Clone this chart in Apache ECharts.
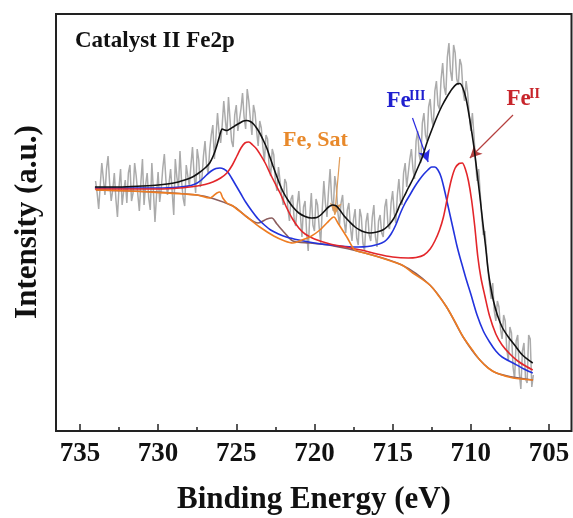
<!DOCTYPE html>
<html>
<head>
<meta charset="utf-8">
<script src="https://cdn.jsdelivr.net/npm/echarts@6/dist/echarts.min.js"></script>
<style>
html,body{margin:0;padding:0;background:#fff;}
#chart{width:573px;height:518px;}
</style>
</head>
<body>
<div id="chart"></div>
<script>
// ---- Data (binding energy in eV, intensity in arbitrary units) ----
const tickLabels = [735, 730, 725, 720, 715, 710, 705];
const minorTicks = [732.5, 727.5, 722.5, 717.5, 712.5, 707.5];

const rawEnergy = [
734.0,733.9,733.8,733.7,733.6,733.5,733.4,733.3,733.2,733.1,733.0,732.9,732.8,732.7,732.6,732.5,732.4,732.3,732.2,732.1,
732.0,731.9,731.8,731.7,731.6,731.5,731.4,731.3,731.2,731.1,731.0,730.9,730.8,730.7,730.6,730.5,730.4,730.3,730.2,730.1,
730.0,729.9,729.8,729.7,729.6,729.5,729.4,729.3,729.2,729.1,729.0,728.9,728.8,728.7,728.6,728.5,728.4,728.3,728.2,728.1,
728.0,727.9,727.8,727.7,727.6,727.5,727.4,727.3,727.2,727.1,727.0,726.9,726.8,726.7,726.6,726.5,726.4,726.3,726.2,726.1,
726.0,725.9,725.8,725.7,725.6,725.5,725.4,725.3,725.2,725.1,725.0,724.9,724.8,724.7,724.6,724.5,724.4,724.3,724.2,724.1,
724.0,723.9,723.8,723.7,723.6,723.5,723.4,723.3,723.2,723.1,723.0,722.9,722.8,722.7,722.6,722.5,722.4,722.3,722.2,722.1,
722.0,721.9,721.8,721.7,721.6,721.5,721.4,721.3,721.2,721.1,721.0,720.9,720.8,720.7,720.6,720.5,720.4,720.3,720.2,720.1,
720.0,719.9,719.8,719.7,719.6,719.5,719.4,719.3,719.2,719.1,719.0,718.9,718.8,718.7,718.6,718.5,718.4,718.3,718.2,718.1,
718.0,717.9,717.8,717.7,717.6,717.5,717.4,717.3,717.2,717.1,717.0,716.9,716.8,716.7,716.6,716.5,716.4,716.3,716.2,716.1,
716.0,715.9,715.8,715.7,715.6,715.5,715.4,715.3,715.2,715.1,715.0,714.9,714.8,714.7,714.6,714.5,714.4,714.3,714.2,714.1,
714.0,713.9,713.8,713.7,713.6,713.5,713.4,713.3,713.2,713.1,713.0,712.9,712.8,712.7,712.6,712.5,712.4,712.3,712.2,712.1,
712.0,711.9,711.8,711.7,711.6,711.5,711.4,711.3,711.2,711.1,711.0,710.9,710.8,710.7,710.6,710.5,710.4,710.3,710.2,710.1,
710.0,709.9,709.8,709.7,709.6,709.5,709.4,709.3,709.2,709.1,709.0,708.9,708.8,708.7,708.6,708.5,708.4,708.3,708.2,708.1,
708.0,707.9,707.8,707.7,707.6,707.5,707.4,707.3,707.2,707.1,707.0,706.9,706.8,706.7,706.6,706.5,706.4,706.3,706.2,706.1,
706.0];
const rawIntensity = [
250,238,222,246,268,252,236,262,275,248,230,241,258,232,214,244,262,226,240,251,
228,258,266,230,238,268,255,237,220,249,272,226,246,258,233,221,268,240,209,236,
259,229,242,263,277,251,236,248,262,239,216,272,254,243,280,250,233,225,266,255,
245,266,284,257,238,282,271,244,252,275,290,266,258,281,296,306,272,294,318,298,
288,306,330,311,296,334,312,290,284,316,326,300,298,322,338,314,302,342,330,312,
296,326,318,300,285,310,303,284,270,296,292,264,255,282,276,250,240,264,262,236,
226,252,248,222,210,232,236,212,205,226,240,216,194,224,230,198,180,215,238,206,
200,232,226,204,188,222,250,228,214,240,262,232,220,255,244,218,206,228,236,210,
198,221,228,204,190,212,222,193,186,222,214,188,180,209,218,196,190,214,226,194,
184,210,216,198,194,224,232,206,202,228,240,218,208,236,252,230,226,258,268,244,
244,272,282,262,252,290,300,276,268,308,318,296,290,324,332,312,304,340,350,326,
322,352,368,344,336,374,388,360,350,386,378,352,346,372,366,340,330,350,338,316,
300,318,296,270,250,262,238,214,196,200,180,160,146,132,148,120,110,130,124,102,
92,116,110,82,70,104,98,64,52,90,96,58,42,80,88,52,48,96,92,44,
56];

const envelopeFit = [
[734.04,244],[732.5,244],[731.0,245],[730.0,246],[729.0,248],[728.3,251],[727.8,254],[727.4,258],
[727.0,263],[726.7,268],[726.45,276],[726.25,285],[726.05,296],[725.9,302],[725.75,301],[725.6,300.5],
[725.4,302],[725.2,304],[725.0,306],[724.77,308],[724.55,310],[724.34,310.5],[724.1,309.5],[723.9,307],
[723.7,303],[723.5,298],[723.28,291],[723.05,283],[722.85,274],[722.65,265],[722.42,255],[722.2,246],
[722.0,239],[721.7,231],[721.38,224],[721.0,218],[720.6,214.5],[720.2,213],[719.85,213.5],[719.6,216],
[719.35,220],[719.1,224],[718.85,226],[718.6,225],[718.38,221],[718.1,215],[717.74,209],[717.4,204],
[717.1,201],[716.8,199],[716.46,198],[716.0,199],[715.63,201],[715.3,205],[714.99,211],[714.75,218],
[714.54,226],[714.25,235],[714.0,243],[713.7,252],[713.45,261],[713.1,274],[712.81,288],[712.5,301],
[712.17,314],[711.85,325],[711.53,334],[711.2,342],[710.9,347],[710.7,347.5],[710.51,343],[710.3,332],
[710.06,311],[709.8,284],[709.62,261],[709.4,232],[709.23,208],[709.05,184],[708.9,162],[708.75,146],
[708.55,130],[708.3,116],[708.0,104],[707.6,94],[707.2,86],[706.7,76],[706.04,68]];

const fe2Fit = [
[734.04,242],[732.0,242],[730.0,242],[728.6,243],[727.5,245],[727.0,246.5],[726.5,249],[726.0,253],
[725.6,258],[725.25,266],[724.96,275],[724.7,283],[724.45,288],[724.2,289],[723.95,286],[723.7,282],
[723.45,276],[723.15,268],[722.85,258],[722.5,247],[722.2,238],[721.8,224],[721.4,212],[721.0,203],
[720.6,197],[720.0,192],[719.0,187],[718.0,184],[717.0,181],[716.0,177],[715.0,174],[714.0,173],
[713.5,173.5],[713.0,176],[712.6,182],[712.3,190],[712.0,201],[711.75,214],[711.5,233],[711.25,251],
[711.0,263],[710.75,267.5],[710.55,268],[710.35,262],[710.15,250],[709.95,231],[709.75,205],[709.55,174],
[709.35,153],[709.1,135],[708.8,115],[708.4,97],[708.0,86],[707.5,77],[707.0,70],[706.5,65],[706.04,61]];

const fe3Fit = [
[734.04,243],[732.0,243],[730.0,243],[728.6,244],[727.9,245.5],[727.5,248],[727.2,251.5],[726.9,256],
[726.6,260],[726.3,262.5],[726.05,263],[725.8,262],[725.55,259],[725.3,253],[725.0,245],[724.7,237],
[724.4,229],[724.0,220],[723.6,212],[723.2,206],[722.8,201],[722.3,197],[721.8,194],[721.0,191],
[720.0,188],[719.0,186],[718.0,184.5],[717.2,184],[716.6,184.5],[716.1,186],[715.7,188],[715.4,191],
[715.1,197],[714.8,206],[714.5,218],[714.2,228],[713.9,236],[713.6,244],[713.3,251],[713.0,257],
[712.75,261],[712.5,264],[712.3,264],[712.1,261],[711.9,254],[711.7,242],[711.5,228],[711.3,214],
[711.1,200],[710.9,186],[710.7,174],[710.5,163],[710.3,152],[710.0,137],[709.6,116],[709.2,100],
[708.8,89],[708.4,80],[708.0,74],[707.3,68],[706.6,62],[706.04,58]];

const satFit = [
[733.98,241],[730.52,239],[727.52,236],[726.69,233],[726.4,236],[726.24,238],[726.05,239],[725.86,233],
[725.6,228],[725.22,225],[724.32,214],[723.5,204],[722.6,195],[721.9,190],[721.38,188],[720.8,191],
[720.29,194],[719.65,201],[719.21,208],[718.76,214],[718.5,208],[717.93,194],[717.42,181],[716.78,178],
[715.5,172],[714.41,166],[713.71,158],[712.62,146],[712.0,134],[711.55,124],[711.0,109],[710.49,94],
[709.9,81],[709.42,71],[708.9,63],[708.36,58],[707.3,53],[706.02,51]];

const sat2Fit = [
[733.98,241],[727.52,236],[725.22,225],[724.32,214],[723.6,208],[723.04,212],[722.73,213],[722.4,207],
[721.9,198],[721.38,190],[720.29,188],[719.08,186],[716.78,178],[714.41,166],[712.62,146],[711.55,124],
[710.49,94],[709.42,71],[708.36,58],[706.02,51]];

const arrowFe3 = [[713.73,313],[712.73,269]];
const arrowFe2 = [[707.30,316],[710.06,273]];
const arrowSat = [[718.38,274],[718.70,216]];

// ---- Chart ----
const FONT = '"Liberation Serif","Times New Roman",serif';
const chart = echarts.init(document.getElementById('chart'), null, {renderer: 'canvas'});

const rawData = rawEnergy.map((e, i) => [e, rawIntensity[i]]);

function fitSeries(name, data, color, z) {
  return {
    name, type: 'line', data, smooth: 0.3, symbol: 'none', z,
    lineStyle: {color, width: 1.6}, silent: true
  };
}

const option = {
  animation: false,
  backgroundColor: '#fff',
  grid: {left: 56, right: 1.5, top: 14, bottom: 87, show: true, borderColor: '#222', borderWidth: 2},
  xAxis: [{
    type: 'value', inverse: true, min: 703.56, max: 736.53,
    axisLine: {show: false},
    splitLine: {show: false},
    axisTick: {show: true, inside: true, length: 7, lineStyle: {color: '#222', width: 1.5}, customValues: tickLabels},
    axisLabel: {show: true, customValues: tickLabels, margin: 10, color: '#111',
      fontFamily: FONT, fontWeight: 'bold', fontSize: 27}
  }, {
    type: 'value', inverse: true, min: 703.56, max: 736.53, position: 'bottom',
    axisLine: {show: false}, splitLine: {show: false}, axisLabel: {show: false},
    axisTick: {show: true, inside: true, length: 4, lineStyle: {color: '#222', width: 1.5}, customValues: minorTicks}
  }],
  yAxis: {
    type: 'value', min: 0, max: 417,
    axisLine: {show: false}, axisTick: {show: false}, axisLabel: {show: false}, splitLine: {show: false}
  },
  series: [
    {name: 'raw', type: 'line', data: rawData, symbol: 'none', z: 1, silent: true,
     lineStyle: {color: '#ababab', width: 1.5}},
    fitSeries('sat2', sat2Fit, '#8c5e5e', 2),
    fitSeries('FeIII', fe3Fit, '#2233dd', 3),
    fitSeries('FeII', fe2Fit, '#e3262a', 4),
    fitSeries('Sat', satFit, '#ee7d22', 5),
    Object.assign(fitSeries('envelope', envelopeFit, '#111111', 6), {
      markLine: {
        silent: true, animation: false, symbol: ['none', 'arrow'], symbolSize: [9, 12],
        label: {show: false},
        data: [
          [{coord: arrowFe3[0], lineStyle: {color: '#2a2ae0', width: 1.2, type: 'solid'}}, {coord: arrowFe3[1]}],
          [{coord: arrowFe2[0], lineStyle: {color: '#b5403f', width: 1.2, type: 'solid'}}, {coord: arrowFe2[1]}],
          [{coord: arrowSat[0], lineStyle: {color: '#e09a55', width: 1.2, type: 'solid'}}, {coord: arrowSat[1]}]
        ]
      }
    })
  ],
  graphic: [
    {type: 'text', x: 75, y: 41.5, style: {text: 'Catalyst II Fe2p', font: 'bold 23px ' + FONT, fill: '#111', align: 'left', verticalAlign: 'middle'}},
    {type: 'text', x: 283, y: 140.5, style: {text: 'Fe, Sat', font: 'bold 22px ' + FONT, fill: '#e8892b', align: 'left', verticalAlign: 'middle'}},
    {type: 'text', x: 386.5, y: 101, style: {text: 'Fe', font: 'bold 23px ' + FONT, fill: '#1f1fcf', align: 'left', verticalAlign: 'middle'}},
    {type: 'text', x: 409, y: 96.5, style: {text: 'III', font: 'bold 14px ' + FONT, fill: '#1f1fcf', align: 'left', verticalAlign: 'middle'}},
    {type: 'text', x: 506.5, y: 99, style: {text: 'Fe', font: 'bold 23px ' + FONT, fill: '#c8252b', align: 'left', verticalAlign: 'middle'}},
    {type: 'text', x: 529, y: 94, style: {text: 'II', font: 'bold 14px ' + FONT, fill: '#c8252b', align: 'left', verticalAlign: 'middle'}},
    {type: 'text', x: 314, y: 500, style: {text: 'Binding Energy (eV)', font: 'bold 31px ' + FONT, fill: '#111', align: 'center', verticalAlign: 'middle'}},
    {type: 'text', x: 28, y: 222, rotation: Math.PI / 2, style: {text: 'Intensity (a.u.)', font: 'bold 31px ' + FONT, fill: '#111', align: 'center', verticalAlign: 'middle'}}
  ]
};
chart.setOption(option);
</script>
</body>
</html>
